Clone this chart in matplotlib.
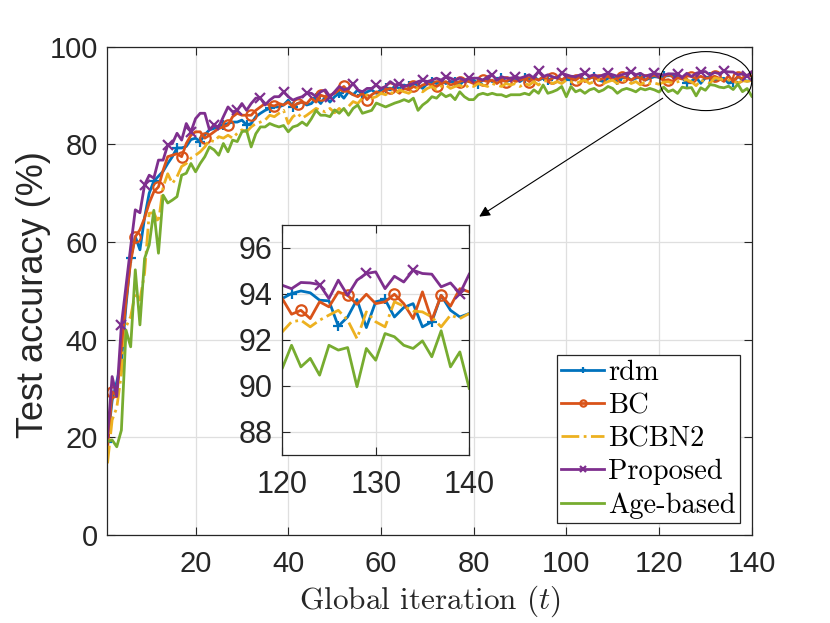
import numpy as np
import matplotlib
matplotlib.use("Agg")
import matplotlib.pyplot as plt
from matplotlib.patches import Ellipse

plt.rcParams['mathtext.fontset'] = 'cm'

t = np.arange(1, 141)

rdm = [18.9, 27.5, 31.3, 35.5, 47.0, 56.7, 61.1, 58.4, 65.0, 70.0,
       72.5, 73.5, 74.5, 76.1, 77.5, 79.3, 79.3, 79.6, 81.0, 81.3,
       80.6, 82.0, 83.0, 83.3, 83.6, 84.0, 84.3, 84.6, 84.6, 85.0,
       84.0, 84.3, 85.7, 86.4, 87.0, 87.4, 87.7, 87.7, 88.1, 89.1,
       87.7, 88.4, 88.7, 88.1, 88.4, 89.5, 88.4, 89.8, 88.7, 89.8,
       90.5, 89.5, 90.8, 90.2, 91.2, 90.2, 90.8, 91.2, 90.5, 91.2,
       91.5, 91.2, 91.9, 91.5, 92.2, 91.9, 92.5, 92.2, 91.5, 92.5,
       92.9, 92.5, 93.2, 92.5, 92.9, 92.9, 92.2, 93.2, 92.9, 93.2,
       92.5, 93.2, 93.6, 92.9, 93.2, 93.6, 92.9, 93.2, 93.6, 92.9,
       93.6, 93.2, 93.9, 93.2, 93.6, 93.2, 93.6, 93.9, 93.2, 93.6,
       93.2, 93.6, 93.9, 93.2, 93.6, 93.9, 93.2, 92.9, 93.6, 93.9,
       93.2, 93.6, 93.9, 93.2, 93.6, 93.9, 93.2, 93.6, 93.9,
       93.8, 94.02, 94.13, 94.05, 93.73, 93.7, 92.6, 93.0, 93.76, 92.54,
       93.66, 93.76, 93.0, 93.41, 93.58, 92.57, 92.79, 93.94, 93.29, 93.0, 93.15]

bc = [17.5, 29.3, 28.5, 38.0, 48.0, 56.0, 61.1, 62.5, 64.9, 68.0,
      70.3, 71.3, 74.7, 77.5, 77.8, 78.1, 77.5, 80.2, 81.9, 82.6,
      82.6, 81.3, 81.9, 82.6, 83.3, 83.6, 84.0, 85.7, 86.4, 86.0,
      86.0, 86.0, 87.0, 87.7, 88.4, 88.1, 87.9, 88.4, 88.1, 88.7,
      87.7, 88.4, 88.7, 88.4, 89.5, 88.7, 90.1, 89.8, 90.1, 90.5,
      91.2, 91.9, 90.8, 90.2, 89.8, 90.5, 89.2, 90.2, 90.8, 90.5,
      91.2, 91.5, 91.2, 90.5, 91.5, 91.2, 91.9, 91.5, 92.2, 92.5,
      92.2, 91.9, 92.5, 92.9, 92.2, 92.5, 92.9, 93.2, 92.9, 92.5,
      92.9, 93.2, 92.9, 93.2, 92.5, 93.2, 92.9, 93.6, 92.9, 93.2,
      93.6, 92.9, 93.6, 93.2, 93.9, 92.9, 93.6, 93.9, 93.2, 93.9,
      93.6, 93.2, 93.9, 92.9, 93.6, 93.9, 93.2, 93.6, 94.0, 93.2,
      93.6, 93.9, 93.6, 93.2, 93.9, 93.6, 93.2, 93.9, 94.2,
      93.8, 93.12, 93.29, 92.93, 93.66, 93.44, 94.09, 93.94, 93.55, 93.99,
      93.58, 93.66, 93.99, 93.58, 92.93, 94.09, 92.86, 93.94, 93.47, 94.23, 94.09]

bcbn2 = [14.6, 23.5, 26.0, 33.0, 42.6, 44.7, 49.5, 48.1, 53.6, 65.9,
         66.0, 64.0, 71.3, 74.0, 72.0, 73.4, 75.5, 76.1, 77.2, 77.8,
         78.5, 79.5, 80.9, 80.6, 81.6, 81.3, 81.9, 81.3, 82.3, 83.0,
         82.6, 83.6, 84.3, 84.6, 85.0, 86.0, 85.7, 86.4, 87.0, 84.3,
         85.7, 86.4, 85.4, 86.0, 86.7, 87.4, 87.0, 86.7, 87.4, 86.5,
         87.4, 86.4, 87.8, 88.8, 88.4, 89.5, 90.2, 89.5, 89.8, 90.5,
         90.2, 90.8, 90.2, 91.2, 90.8, 90.5, 91.2, 91.5, 90.8, 91.5,
         91.9, 91.2, 91.9, 92.2, 91.5, 91.9, 92.2, 91.5, 92.2, 91.9,
         92.5, 92.2, 91.9, 92.5, 92.2, 91.9, 92.5, 92.2, 92.5, 91.9,
         92.5, 92.2, 92.9, 92.2, 92.9, 93.2, 92.5, 92.9, 92.5, 93.2,
         92.9, 92.5, 92.9, 93.2, 92.5, 92.9, 93.2, 92.5, 92.9, 93.2,
         92.5, 92.9, 93.2, 92.5, 92.9, 92.2, 92.9, 92.5, 92.6,
         92.35, 92.79, 92.86, 92.57, 92.86, 93.08, 93.29, 92.86, 92.06, 93.22,
         92.79, 92.57, 93.66, 93.47, 93.26, 93.22, 93.0, 92.57, 93.08, 92.93, 93.15]

proposed = [20.0, 32.4, 28.3, 43.0, 51.0, 59.0, 66.6, 66.0, 71.7, 73.7,
            73.1, 76.8, 76.8, 79.9, 80.2, 82.3, 80.9, 84.3, 82.6, 85.3,
            86.4, 86.4, 83.0, 84.0, 83.6, 85.7, 87.7, 86.7, 87.0, 88.4,
            87.0, 88.4, 89.5, 89.5, 88.1, 89.1, 89.8, 89.8, 90.8, 89.8,
            89.1, 89.5, 89.8, 90.5, 90.5, 89.8, 90.8, 91.2, 89.8, 90.8,
            91.9, 91.2, 91.5, 92.5, 91.2, 90.8, 91.5, 91.5, 92.2, 91.5,
            91.9, 92.9, 92.2, 92.5, 91.9, 92.2, 92.5, 92.9, 93.2, 92.9,
            93.2, 93.6, 93.2, 93.9, 93.6, 93.2, 93.6, 93.2, 93.6, 93.6,
            93.6, 93.2, 93.9, 94.3, 93.2, 93.9, 93.6, 93.6, 93.9, 93.6,
            93.9, 94.3, 93.6, 95.0, 93.9, 94.3, 93.9, 93.6, 94.6, 94.3,
            94.0, 93.9, 94.3, 94.6, 94.0, 94.3, 93.9, 94.3, 94.6, 94.3,
            94.0, 94.3, 94.6, 94.9, 94.3, 94.6, 94.0, 94.3, 94.6,
            94.38, 94.23, 94.5, 94.48, 94.41, 93.8, 94.6, 93.94, 94.6, 94.89,
            94.96, 94.23, 94.77, 94.52, 95.03, 94.89, 94.86, 94.31, 94.48, 94.02, 94.86]

age_based = [19.1, 19.4, 18.0, 21.4, 41.9, 38.5, 54.3, 43.0, 56.6, 59.4,
             66.5, 57.7, 69.6, 68.0, 68.6, 69.3, 73.7, 74.1, 76.1, 74.4,
             76.1, 77.5, 79.5, 78.9, 77.8, 80.2, 78.5, 80.9, 80.6, 82.6,
             82.9, 79.5, 82.2, 83.6, 83.6, 84.3, 83.9, 83.6, 83.9, 82.6,
             83.6, 83.9, 84.6, 83.9, 85.3, 87.0, 86.0, 86.0, 85.7, 87.1,
             86.4, 87.4, 86.0, 87.4, 88.1, 86.4, 86.7, 87.0, 88.5, 88.1,
             87.7, 88.1, 88.5, 88.8, 89.2, 88.8, 89.5, 87.0, 88.1, 88.8,
             89.8, 89.5, 90.5, 89.8, 90.2, 89.2, 90.8, 89.8, 89.2, 89.2,
             90.2, 90.5, 90.2, 90.5, 90.2, 90.2, 89.8, 90.2, 90.2, 90.2,
             90.5, 90.2, 91.2, 90.5, 92.2, 90.5, 90.8, 91.2, 91.9, 89.8,
             91.9, 90.8, 91.2, 90.5, 91.2, 91.5, 90.8, 91.2, 91.9, 91.5,
             90.5, 91.2, 91.5, 91.2, 90.8, 91.5, 91.2, 91.5, 91.2,
             90.76, 91.77, 90.83, 91.2, 90.47, 91.77, 91.56, 91.67, 89.97, 91.63,
             91.12, 92.28, 92.14, 91.77, 91.63, 91.96, 91.27, 92.4, 90.83, 91.48, 89.9]

labels = ['rdm', 'BC', 'BCBN2', 'Proposed', 'Age-based']
main_xticks = [20, 40, 60, 80, 100, 120, 140]
main_yticks = [0, 20, 40, 60, 80, 100]
inset_xticks = [120, 130, 140]
inset_yticks = [88, 90, 92, 94, 96]

series = [rdm, bc, bcbn2, proposed, age_based]
colors = ['#0072BD', '#D95319', '#EDB120', '#7E2F8E', '#77AC30']
styles = ['-', '-', '-.', '-', '-']
markers = ['+', 'o', None, 'x', None]
mevery = [(0, 5), (1, 5), None, (3, 5), None]

axc = '#262626'
gridc = '#dfdfdf'

fig = plt.figure(figsize=(8.3, 6.23), dpi=100)
ax = fig.add_axes([0.1295, 0.142, 0.7762, 0.7826])


def style_axes(a, fs):
    a.set_axisbelow(True)
    a.grid(True, color=gridc, lw=0.9)
    a.tick_params(direction='in', top=True, right=True, length=6, width=0.8,
                  colors=axc, labelsize=fs)
    for s in a.spines.values():
        s.set_color(axc)
        s.set_linewidth(0.9)
    for lab in a.get_xticklabels() + a.get_yticklabels():
        lab.set_family('Liberation Sans')


def draw(a, ms):
    hs = []
    for y, c, ls, m, me, lab in zip(series, colors, styles, markers, mevery, labels):
        kw = {}
        if m is not None:
            kw = dict(marker=m, markevery=me, markersize=ms, markeredgewidth=1.6,
                      markerfacecolor='none')
        h, = a.plot(t, y, color=c, ls=ls, lw=2.0, label=lab, **kw)
        hs.append(h)
    return hs


hs = draw(ax, 7.5)
ax.set_xlim(1, 140)
ax.set_ylim(0, 100)
ax.set_xticks(main_xticks)
ax.set_yticks(main_yticks)
style_axes(ax, 21)
ax.tick_params(axis='x', pad=11)
ax.tick_params(axis='y', pad=7)
ax.set_ylabel('Test accuracy (%)', fontsize=26, family='Liberation Sans', color=axc)
ax.yaxis.set_label_coords(-0.088, 0.493)
ax.set_xlabel('Global iteration ($t$)', fontsize=22.5, family='cmr10', color=axc)
ax.xaxis.set_label_coords(0.5, -0.1)

# zoom indicator
ell = Ellipse((130.1, 93.0), 19.8, 12.1, fill=False, ec='k', lw=0.8, zorder=5)
ax.add_patch(ell)
ax.annotate('', xy=(80.7, 64.9), xytext=(121.3, 89.8),
            arrowprops=dict(arrowstyle='-|>', color='k', lw=0.8, mutation_scale=16),
            zorder=5)

leg = ax.legend(handles=hs, loc='lower right', bbox_to_anchor=(0.982, 0.0236),
                borderaxespad=0, prop={'family': 'cmr10', 'size': 20.5},
                handlelength=1.5, handletextpad=0.15, labelspacing=0.24,
                borderpad=0.15, fancybox=False, framealpha=1, edgecolor=axc,
                markerscale=0.6)
leg.get_frame().set_linewidth(0.9)
leg.set_zorder(10)

# inset
axi = fig.add_axes([0.340, 0.2697, 0.2253, 0.3692])
draw(axi, 7.5)
axi.set_xlim(120, 140)
axi.set_ylim(87, 97)
axi.set_xticks(inset_xticks)
axi.set_yticks(inset_yticks)
style_axes(axi, 22)
axi.tick_params(axis='x', pad=11)
axi.tick_params(axis='y', pad=7)
axi.set_zorder(8)

fig.savefig('out.png', dpi=100)
